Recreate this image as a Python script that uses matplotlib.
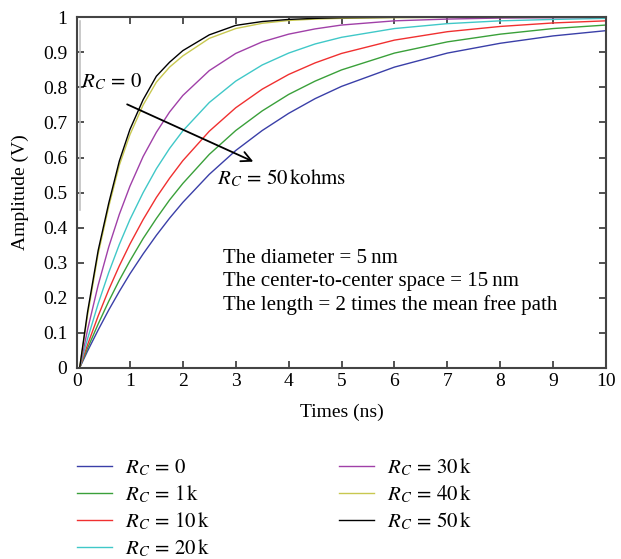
import matplotlib
matplotlib.use("Agg")
import matplotlib.pyplot as plt

plt.rcParams['font.family'] = ['Liberation Serif', 'DejaVu Serif']
plt.rcParams['mathtext.fontset'] = 'stix'

# time samples (ns)
t = [0, 0.05, 0.2, 0.4, 0.6, 0.8, 1.0, 1.25, 1.5, 1.75, 2.0, 2.5, 3.0, 3.5,
     4.0, 4.5, 5.0, 6.0, 7.0, 8.0, 9.0, 10.0]

# amplitudes (V)
rc_0 = [0, 0, 0.048, 0.108, 0.165, 0.218, 0.268, 0.325, 0.378, 0.427, 0.472,
        0.552, 0.620, 0.677, 0.726, 0.768, 0.803, 0.858, 0.898, 0.926, 0.947, 0.962]
rc_1k = [0, 0, 0.056, 0.125, 0.190, 0.250, 0.305, 0.369, 0.426, 0.479, 0.526,
         0.609, 0.677, 0.733, 0.780, 0.818, 0.850, 0.898, 0.930, 0.952, 0.968, 0.978]
rc_10k = [0, 0, 0.066, 0.148, 0.223, 0.291, 0.353, 0.423, 0.486, 0.541, 0.591,
          0.675, 0.742, 0.795, 0.837, 0.870, 0.897, 0.935, 0.959, 0.974, 0.984, 0.990]
rc_20k = [0, 0, 0.083, 0.183, 0.272, 0.352, 0.423, 0.500, 0.568, 0.626, 0.676,
          0.757, 0.818, 0.864, 0.898, 0.924, 0.943, 0.968, 0.982, 0.990, 0.994, 0.997]
rc_30k = [0, 0, 0.109, 0.236, 0.345, 0.438, 0.518, 0.603, 0.672, 0.730, 0.777,
          0.848, 0.897, 0.930, 0.952, 0.967, 0.978, 0.990, 0.995, 0.998, 0.999, 1.0]
rc_40k = [0, 0, 0.150, 0.325, 0.460, 0.578, 0.665, 0.750, 0.815, 0.858, 0.890,
          0.940, 0.968, 0.983, 0.991, 0.995, 0.997, 0.999, 1.0, 1.0, 1.0, 1.0]
rc_50k = [0, 0, 0.160, 0.335, 0.470, 0.590, 0.680, 0.765, 0.832, 0.872, 0.905,
          0.950, 0.977, 0.988, 0.994, 0.997, 0.999, 1.0, 1.0, 1.0, 1.0, 1.0]

labels = ['$R_C\\,=\\,0$', '$R_C\\,=\\,1\\,\\mathrm{k}$', '$R_C\\,=\\,10\\,\\mathrm{k}$',
          '$R_C\\,=\\,20\\,\\mathrm{k}$', '$R_C\\,=\\,30\\,\\mathrm{k}$',
          '$R_C\\,=\\,40\\,\\mathrm{k}$', '$R_C\\,=\\,50\\,\\mathrm{k}$']
colors = ['#3a3fa8', '#3aa03a', '#f03030', '#40c8c8', '#a040a8', '#c8c850', '#000000']
series = [rc_0, rc_1k, rc_10k, rc_20k, rc_30k, rc_40k, rc_50k]

# faint grey trace near t = 0
spike_t = [0.06, 0.06]
spike_v = [0.45, 0.99]

fig = plt.figure(figsize=(6.21, 5.59), dpi=100)
ax = fig.add_axes([0.124, 0.342, 0.852, 0.627])

ax.plot(spike_t, spike_v, color='#c0c0c0', lw=1.2)
for v, c, lab in zip(series, colors, labels):
    ax.plot(t, v, color=c, lw=1.0, label=lab)

ax.set_xlim(0, 10)
ax.set_ylim(0, 1)
ax.set_xticks(range(11))
ax.set_yticks([i / 10 for i in range(11)])
ax.set_yticklabels(['0', '0.1', '0.2', '0.3', '0.4', '0.5', '0.6', '0.7', '0.8', '0.9', '1'])
ax.tick_params(direction='in', top=True, right=True, labelsize=14, length=5,
               width=1.2, color='#333333')
ax.tick_params(axis='y', pad=7)
for s in ax.spines.values():
    s.set_linewidth(1.5)
    s.set_color('#444444')

ax.set_xlabel('Times (ns)', fontsize=14, labelpad=10)
ax.set_ylabel('Amplitude (V)', fontsize=14, labelpad=10)

ax.text(0.08, 0.815, '$R_C\\,=\\,0$', fontsize=15, va='center', ha='left')
ax.annotate('', xy=(3.38, 0.585), xytext=(0.9, 0.755),
            arrowprops=dict(arrowstyle='->', color='black', lw=1.3, mutation_scale=18))
ax.text(2.65, 0.54, '$R_C\\,=\\,50\\,\\mathrm{kohms}$', fontsize=15, va='center', ha='left')

ax.text(2.76, 0.312, 'The diameter = 5\u2009nm', fontsize=15, va='center')
ax.text(2.76, 0.246, 'The center-to-center space = 15\u2009nm', fontsize=15, va='center')
ax.text(2.76, 0.178, 'The length = 2 times the mean free path', fontsize=15, va='center')

handles, labs = ax.get_legend_handles_labels()
fig.legend(handles, labs, ncol=2, loc='upper left', bbox_to_anchor=(0.110, 0.198),
           frameon=False, fontsize=15, handlelength=1.7, columnspacing=6.2,
           labelspacing=0.25, handletextpad=0.6, borderaxespad=0)

fig.savefig('out.png', dpi=100)
